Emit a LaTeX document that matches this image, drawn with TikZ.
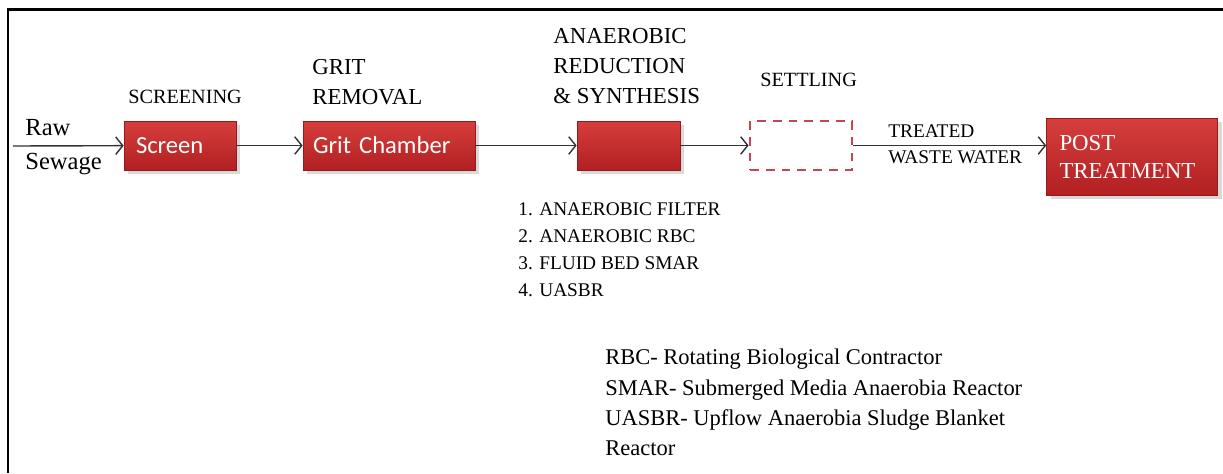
\documentclass[tikz,border=0pt]{standalone}
\usepackage{fontspec}
\setmainfont{Liberation Serif}
\newfontfamily\calibri{Carlito}
\usetikzlibrary{arrows.meta,positioning,shadows}

\definecolor{red1}{RGB}{214,62,60}
\definecolor{red2}{RGB}{178,32,34}
\definecolor{red3}{RGB}{150,25,28}
\definecolor{dashred}{RGB}{192,72,84}

\tikzstyle{arrow} = [draw, -{Straight Barb[length=4pt,width=10pt]}, line width=0.8pt, color=black!80]
\tikzstyle{unit} = [draw=red3, top color=red1, bottom color=red2, drop shadow={opacity=0.3}, minimum height=0.98cm, text=white, inner ysep=0, align=left]
\tikzstyle{label} = [anchor=west, inner sep=0, align=left]

\begin{document}
\begin{tikzpicture}[node distance=4em, auto]
    \useasboundingbox (0,0) rectangle (24.46,-9.46);

    % frame
    \draw [-, line width=1.2pt] (0.16,-9.46) |- (24.46,-0.19);

    % process units
    \node[unit, inner xsep=0.24cm, text width=1.76cm, font=\calibri\fontsize{14}{16}\selectfont] (screen) at (3.6,-2.91) {Screen};
    \node[unit, inner xsep=0.2cm, text width=3.04cm, font=\calibri\fontsize{14}{16}\selectfont] (grit) at (7.78,-2.91) {Grit Chamber};
    \node[unit, inner xsep=0, minimum width=2.06cm] (reactor) at (12.57,-2.91) {};
    \node[draw=dashred, dashed, dash pattern=on 5pt off 4pt, line width=1.6pt, minimum width=2.04cm, minimum height=0.98cm] (settle) at (16.02,-2.91) {};
    \node[unit, inner xsep=0.26cm, text width=2.9cm, minimum height=1.54cm, font=\fontsize{13}{16}\selectfont] (post) at (22.64,-3.13) {POST\\TREATMENT};

    % flow
    \coordinate (rawin) at (0.26,-2.92);
    \path[arrow] (rawin) -- (screen);
    \path[arrow] (screen) -- (grit);
    \path[arrow] (grit) -- (reactor);
    \path[arrow] (reactor) -- (settle);
    \path[arrow] (settle.east) -- (settle.east -| post.west);

    % labels
    \node[anchor=south west, inner sep=0, font=\fontsize{14}{16}\selectfont] (raw) at (0.5,-2.72) {Raw};
    \node[anchor=north west, inner sep=0, font=\fontsize{14}{16}\selectfont] (sewage) at (0.5,-3.06) {Sewage};
    \node[label, font=\fontsize{11.5}{14}\selectfont] (screening) at (2.56,-1.94) {SCREENING};
    \node[label, font=\fontsize{13}{17}\selectfont] (gritlabel) at (6.24,-1.64) {GRIT\\REMOVAL};
    \node[label, font=\fontsize{13}{17}\selectfont] (anaerobic) at (11.06,-1.32) {ANAEROBIC\\REDUCTION\\\& SYNTHESIS};
    \node[label, font=\fontsize{11.5}{14}\selectfont] (settling) at (15.2,-1.6) {SETTLING};
    \node[label, font=\fontsize{11}{14.7}\selectfont] (treated) at (17.76,-2.88) {TREATED\\WASTE WATER};

    % reactor types
    \node[label, font=\fontsize{11}{15.3}\selectfont] (types) at (10.36,-4.99) {1. ANAEROBIC FILTER\\2. ANAEROBIC RBC\\3. FLUID BED SMAR\\4. UASBR};

    % abbreviations
    \node[label, font=\fontsize{12.8}{17.2}\selectfont] (legend) at (12.1,-8.05) {RBC- Rotating Biological Contractor\\SMAR- Submerged Media Anaerobia Reactor\\UASBR- Upflow Anaerobia Sludge Blanket\\Reactor};
\end{tikzpicture}
\end{document}
